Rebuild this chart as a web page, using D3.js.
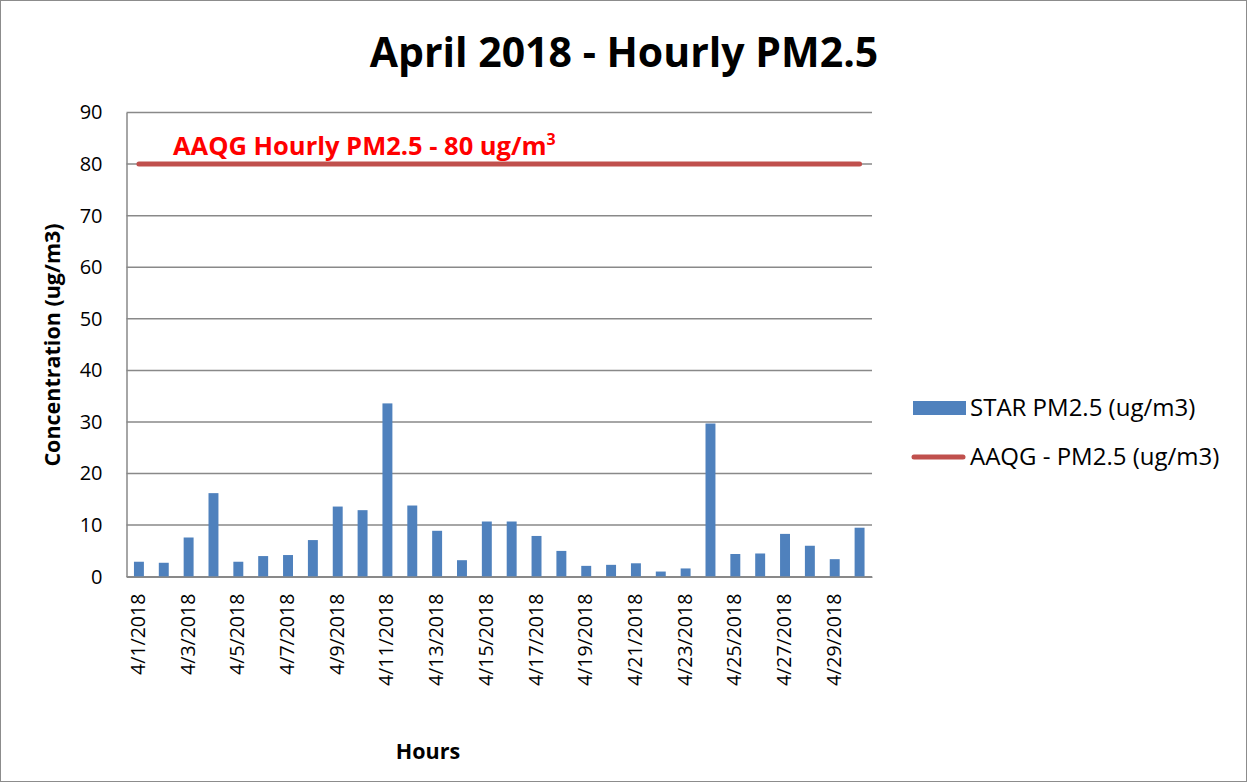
<!DOCTYPE html>
<html>
<head>
<meta charset="utf-8">
<script src="https://cdn.jsdelivr.net/npm/d3@7"></script>
<style>
  body { margin: 0; background: #fff; }
  text { font-family: "Open Sans", "Noto Sans", sans-serif; }
</style>
</head>
<body>
<svg id="chart" width="1247" height="782"></svg>
<script>
// data
var days = ["4/1/2018","4/2/2018","4/3/2018","4/4/2018","4/5/2018","4/6/2018","4/7/2018","4/8/2018","4/9/2018","4/10/2018",
            "4/11/2018","4/12/2018","4/13/2018","4/14/2018","4/15/2018","4/16/2018","4/17/2018","4/18/2018","4/19/2018","4/20/2018",
            "4/21/2018","4/22/2018","4/23/2018","4/24/2018","4/25/2018","4/26/2018","4/27/2018","4/28/2018","4/29/2018","4/30/2018"];
var starPM = [2.9, 2.7, 7.6, 16.2, 2.9, 4.0, 4.2, 7.1, 13.6, 12.9,
              33.6, 13.8, 8.9, 3.2, 10.7, 10.7, 7.9, 5.0, 2.1, 2.3,
              2.6, 1.0, 1.6, 29.7, 4.4, 4.5, 8.3, 6.0, 3.4, 9.5];
var aaqgLimit = days.map(function() { return 80; });
var yTicks = [0, 10, 20, 30, 40, 50, 60, 70, 80, 90];
var legendLabels = ["STAR PM2.5 (ug/m3)", "AAQG - PM2.5 (ug/m3)"];

var barColor = "#4F81BD";
var lineColor = "#C0504D";
var gridColor = "#898989";

var svg = d3.select("#chart");

// outer frame
svg.append("rect")
    .attr("x", 0.5).attr("y", 0.5)
    .attr("width", 1246).attr("height", 781)
    .attr("fill", "#fff")
    .attr("stroke", "#8c8c8c");

var plotLeft = 126.5, plotRight = 872, plotTop = 112.5, plotBottom = 576.7;

var x = d3.scaleBand()
    .domain(days)
    .range([plotLeft, plotRight])
    .paddingInner(0.6)
    .paddingOuter(0.3);

var y = d3.scaleLinear()
    .domain([0, 90])
    .range([plotBottom, plotTop]);

// gridlines
svg.append("g")
    .selectAll("line")
    .data(yTicks)
    .enter()
    .append("line")
    .attr("x1", plotLeft).attr("x2", plotRight)
    .attr("y1", function(d) { return y(d); })
    .attr("y2", function(d) { return y(d); })
    .attr("stroke", gridColor)
    .attr("stroke-width", 1.5);

// y axis
var yAxis = svg.append("g")
    .attr("transform", "translate(" + plotLeft + ",0)")
    .call(d3.axisLeft(y).tickValues(yTicks).tickSize(0).tickPadding(24));
yAxis.select(".domain").attr("stroke", gridColor).attr("stroke-width", 1.5);
yAxis.selectAll("text")
    .attr("font-size", 20)
    .attr("fill", "#000")
    .style("font-family", "'Open Sans', sans-serif");

// bars
svg.append("g")
    .selectAll("rect")
    .data(starPM)
    .enter()
    .append("rect")
    .attr("x", function(d, i) { return x(days[i]); })
    .attr("width", x.bandwidth())
    .attr("y", function(d) { return y(d); })
    .attr("height", function(d) { return y(0) - y(d); })
    .attr("fill", barColor);

// x axis
var xAxis = svg.append("g")
    .attr("transform", "translate(0," + plotBottom + ")")
    .call(d3.axisBottom(x)
        .tickValues(days.filter(function(d, i) { return i % 2 == 0; }))
        .tickSize(0)
        .tickSizeOuter(0));
xAxis.select(".domain").attr("stroke", gridColor).attr("stroke-width", 1.5);
xAxis.selectAll("text")
    .attr("font-size", 19.5)
    .attr("fill", "#000")
    .style("font-family", "'Open Sans', sans-serif")
    .attr("text-anchor", "end")
    .attr("dy", null)
    .attr("y", 0)
    .attr("transform", "translate(6,17) rotate(-90)");

// AAQG line, center of first to center of last category
var line = d3.line()
    .x(function(d, i) { return x(days[i]) + x.bandwidth() / 2; })
    .y(function(d) { return y(d); });

svg.append("path")
    .datum(aaqgLimit)
    .attr("d", line)
    .attr("fill", "none")
    .attr("stroke", lineColor)
    .attr("stroke-width", 5)
    .attr("stroke-linecap", "round");

// annotation above the limit line
var note = svg.append("text")
    .attr("x", 173)
    .attr("y", 155)
    .attr("font-size", 25.5)
    .attr("font-weight", "bold")
    .attr("fill", "#FF0000")
    .text("AAQG Hourly PM2.5 - 80 ug/m");
note.append("tspan")
    .attr("font-size", 16)
    .attr("dy", -10)
    .text("3");

// title
svg.append("text")
    .attr("x", 624)
    .attr("y", 67)
    .attr("text-anchor", "middle")
    .attr("font-size", 41)
    .attr("font-weight", "bold")
    .text("April 2018 - Hourly PM2.5");

// axis titles
svg.append("text")
    .attr("transform", "translate(60,345) rotate(-90)")
    .attr("text-anchor", "middle")
    .attr("font-size", 21.5)
    .attr("font-weight", "bold")
    .text("Concentration (ug/m3)");

svg.append("text")
    .attr("x", 428)
    .attr("y", 759)
    .attr("text-anchor", "middle")
    .attr("font-size", 21.5)
    .attr("font-weight", "bold")
    .text("Hours");

// legend
var legend = svg.append("g");
legend.append("rect")
    .attr("x", 913).attr("y", 401)
    .attr("width", 53).attr("height", 14)
    .attr("fill", barColor);
legend.append("line")
    .attr("x1", 914).attr("x2", 963)
    .attr("y1", 457).attr("y2", 457)
    .attr("stroke", lineColor)
    .attr("stroke-width", 5)
    .attr("stroke-linecap", "round");
legend.selectAll("text.leg")
    .data(legendLabels)
    .enter()
    .append("text")
    .attr("class", "leg")
    .attr("x", 970)
    .attr("y", function(d, i) { return 416 + i * 49; })
    .attr("font-size", 24)
    .text(function(d) { return d; });
</script>
</body>
</html>
